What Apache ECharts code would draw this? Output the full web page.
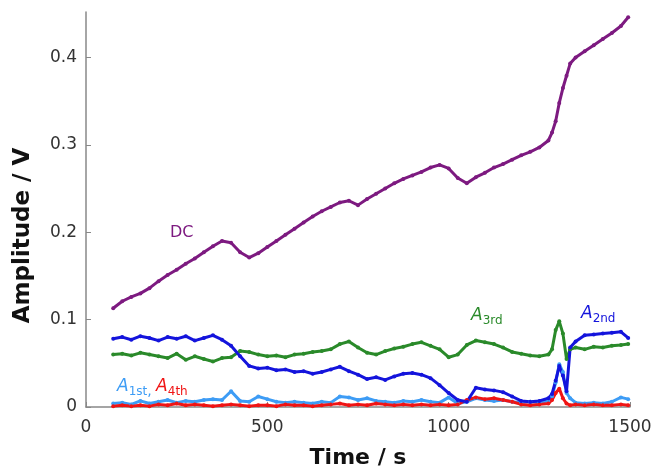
<!DOCTYPE html>
<html>
<head>
<meta charset="utf-8">
<script src="https://cdn.jsdelivr.net/npm/echarts@6/dist/echarts.min.js"></script>
<style>
  html, body { margin: 0; padding: 0; background: #fff; }
  #main { width: 655px; height: 474px; }
</style>
</head>
<body>
<div id="main"></div>
<script>
// sample times (s), denser around the jump near 1300 s
var time = [75, 100, 125, 150, 175, 200, 225, 250, 275, 300, 325, 350, 375, 400, 425, 450, 475, 500,
  525, 550, 575, 600, 625, 650, 675, 700, 725, 750, 775, 800, 825, 850, 875, 900, 925, 950, 975, 1000,
  1025, 1050, 1075, 1100, 1125, 1150, 1175, 1200, 1225, 1250, 1275, 1285, 1295, 1305, 1315, 1325, 1335,
  1350, 1375, 1400, 1425, 1450, 1475, 1495];

var dc = [0.113, 0.121, 0.126, 0.130, 0.136, 0.144, 0.151, 0.157, 0.164, 0.170, 0.177, 0.184, 0.190, 0.188,
  0.177, 0.171, 0.176, 0.183, 0.190, 0.197, 0.204, 0.211, 0.218, 0.224, 0.229, 0.234, 0.236, 0.231, 0.238,
  0.244, 0.250, 0.256, 0.261, 0.265, 0.269, 0.274, 0.277, 0.273, 0.262, 0.256, 0.263, 0.268, 0.274, 0.278,
  0.283, 0.288, 0.292, 0.297, 0.305, 0.314, 0.327, 0.348, 0.365, 0.379, 0.393, 0.400, 0.407, 0.414, 0.421,
  0.428, 0.436, 0.446];

var a2nd = [0.078, 0.080, 0.077, 0.081, 0.079, 0.076, 0.080, 0.078, 0.081, 0.076, 0.079, 0.082, 0.077, 0.070,
  0.058, 0.047, 0.044, 0.045, 0.042, 0.043, 0.040, 0.041, 0.038, 0.040, 0.043, 0.046, 0.041, 0.037, 0.032,
  0.034, 0.031, 0.035, 0.038, 0.039, 0.037, 0.033, 0.025, 0.016, 0.008, 0.006, 0.022, 0.020, 0.019, 0.017,
  0.012, 0.007, 0.006, 0.007, 0.010, 0.015, 0.030, 0.047, 0.036, 0.018, 0.068, 0.075, 0.082, 0.083, 0.084,
  0.085, 0.086, 0.079];

var a3rd = [0.060, 0.061, 0.059, 0.062, 0.060, 0.058, 0.056, 0.061, 0.054, 0.058, 0.055, 0.052, 0.056, 0.057,
  0.064, 0.063, 0.060, 0.058, 0.059, 0.057, 0.060, 0.061, 0.063, 0.064, 0.066, 0.072, 0.075, 0.068, 0.062,
  0.060, 0.064, 0.067, 0.069, 0.072, 0.074, 0.070, 0.066, 0.057, 0.060, 0.071, 0.076, 0.074, 0.072, 0.068,
  0.063, 0.061, 0.059, 0.058, 0.060, 0.066, 0.088, 0.098, 0.084, 0.055, 0.066, 0.068, 0.066, 0.069, 0.068,
  0.070, 0.071, 0.072];

var a1st = [0.004, 0.005, 0.003, 0.007, 0.004, 0.006, 0.008, 0.005, 0.007, 0.006, 0.008, 0.009, 0.008, 0.018,
  0.007, 0.006, 0.012, 0.009, 0.006, 0.005, 0.006, 0.005, 0.004, 0.006, 0.005, 0.012, 0.011, 0.008, 0.010,
  0.007, 0.006, 0.005, 0.007, 0.006, 0.008, 0.006, 0.005, 0.011, 0.004, 0.006, 0.010, 0.008, 0.007, 0.008,
  0.006, 0.005, 0.006, 0.005, 0.007, 0.012, 0.028, 0.049, 0.040, 0.016, 0.010, 0.005, 0.004, 0.005, 0.004,
  0.006, 0.011, 0.009];

var a4th = [0.001, 0.002, 0.001, 0.002, 0.001, 0.003, 0.002, 0.004, 0.002, 0.003, 0.002, 0.001, 0.002, 0.003,
  0.002, 0.001, 0.002, 0.002, 0.001, 0.003, 0.002, 0.002, 0.001, 0.002, 0.003, 0.004, 0.002, 0.003, 0.002,
  0.004, 0.003, 0.002, 0.003, 0.002, 0.003, 0.002, 0.003, 0.002, 0.003, 0.008, 0.011, 0.009, 0.010, 0.008,
  0.006, 0.003, 0.002, 0.003, 0.004, 0.008, 0.016, 0.021, 0.010, 0.004, 0.002, 0.003, 0.002, 0.003, 0.002,
  0.002, 0.003, 0.002];

var xTicks = [0, 500, 1000, 1500];
var yTicks = [0, 0.1, 0.2, 0.3, 0.4];

function pairs(vals) {
  return time.map(function (t, i) { return [t, vals[i]]; });
}

function mkSeries(name, vals, color) {
  return {
    name: name,
    type: 'line',
    data: pairs(vals),
    symbol: 'circle',
    symbolSize: 4,
    showSymbol: true,
    itemStyle: { color: color },
    lineStyle: { color: color, width: 3 },
    animation: false
  };
}

var font = 'DejaVu Sans';
var chartDom = document.getElementById('main');
var myChart = echarts.init(chartDom);
var option;

option = {
  animation: false,
  grid: { left: 86, right: 25, top: 12, bottom: 64 },
  xAxis: {
    type: 'value',
    min: 0,
    max: 1500,
    interval: 500,
    name: 'Time / s',
    nameLocation: 'middle',
    nameGap: 40,
    nameTextStyle: { fontFamily: font, fontWeight: 'bold', fontSize: 22, color: '#111' },
    axisLine: { show: true, lineStyle: { color: '#888', width: 1.5 } },
    axisTick: { show: true, inside: true, length: 5, lineStyle: { color: '#888' } },
    axisLabel: {
      customValues: xTicks, margin: 12, fontFamily: font, fontSize: 17, color: '#333',
      formatter: function (v) { return String(v); }
    },
    splitLine: { show: false }
  },
  yAxis: {
    type: 'value',
    min: 0,
    max: 0.452,
    interval: 0.1,
    name: 'Amplitude / V',
    nameLocation: 'middle',
    nameGap: 51,
    nameTextStyle: { fontFamily: font, fontWeight: 'bold', fontSize: 23, color: '#111', padding: [0, 52, 0, 0] },
    axisLine: { show: true, lineStyle: { color: '#888', width: 1.5 } },
    axisTick: { show: true, inside: true, length: 5, customValues: yTicks, lineStyle: { color: '#888' } },
    axisLabel: { customValues: yTicks, margin: 9, fontFamily: font, fontSize: 17, color: '#333' },
    splitLine: { show: false }
  },
  series: [
    mkSeries('A1st', a1st, '#3d9cf5'),
    mkSeries('A4th', a4th, '#f01414'),
    mkSeries('A3rd', a3rd, '#2a8a2a'),
    mkSeries('A2nd', a2nd, '#1414dc'),
    mkSeries('DC', dc, '#7d1a80')
  ],
  graphic: [
    {
      type: 'text', left: 170, top: 225,
      style: { text: 'DC', fill: '#7d1a80', font: '16px "DejaVu Sans"' }
    },
    {
      type: 'text', left: 117, top: 378,
      style: {
        text: '{a|A}{s|1st}{c|, }{b|A}{t|4th}',
        rich: {
          a: { fill: '#3d9cf5', fontFamily: font, fontStyle: 'italic', fontSize: 17, lineHeight: 20, verticalAlign: 'top' },
          s: { fill: '#3d9cf5', fontFamily: font, fontSize: 12, lineHeight: 12, verticalAlign: 'bottom' },
          c: { fill: '#3d9cf5', fontFamily: font, fontSize: 14, lineHeight: 14, verticalAlign: 'bottom' },
          b: { fill: '#f01414', fontFamily: font, fontStyle: 'italic', fontSize: 17, lineHeight: 20, verticalAlign: 'top' },
          t: { fill: '#f01414', fontFamily: font, fontSize: 12, lineHeight: 12, verticalAlign: 'bottom' }
        }
      }
    },
    {
      type: 'text', left: 471, top: 307,
      style: {
        text: '{a|A}{s|3rd}',
        rich: {
          a: { fill: '#2a8a2a', fontFamily: font, fontStyle: 'italic', fontSize: 17, lineHeight: 20, verticalAlign: 'top' },
          s: { fill: '#2a8a2a', fontFamily: font, fontSize: 12, lineHeight: 12, verticalAlign: 'bottom' }
        }
      }
    },
    {
      type: 'text', left: 581, top: 305,
      style: {
        text: '{a|A}{s|2nd}',
        rich: {
          a: { fill: '#1414dc', fontFamily: font, fontStyle: 'italic', fontSize: 17, lineHeight: 20, verticalAlign: 'top' },
          s: { fill: '#1414dc', fontFamily: font, fontSize: 12, lineHeight: 12, verticalAlign: 'bottom' }
        }
      }
    }
  ]
};

option && myChart.setOption(option);
</script>
</body>
</html>
